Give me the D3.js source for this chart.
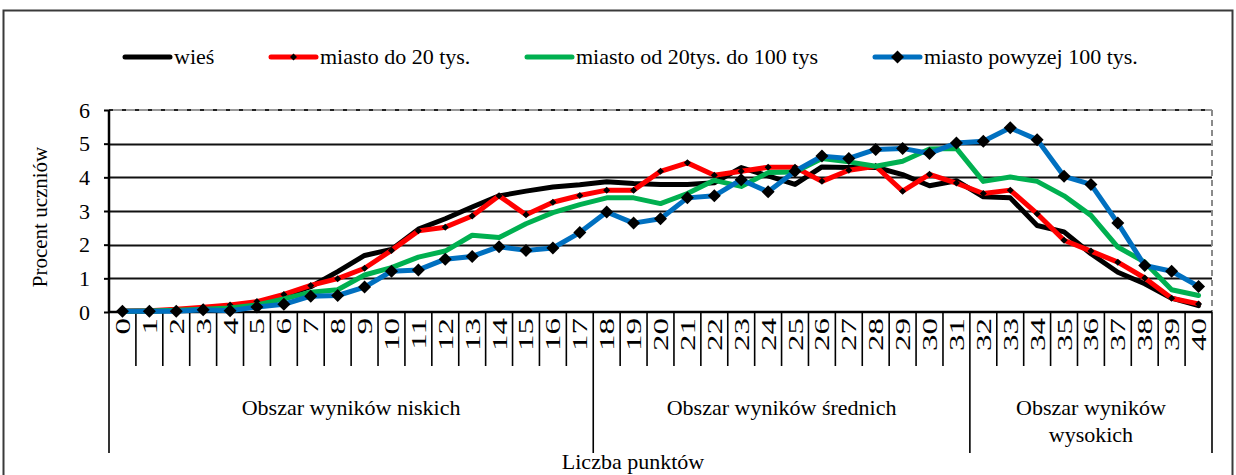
<!DOCTYPE html>
<html>
<head>
<meta charset="utf-8">
<script src="https://cdn.jsdelivr.net/npm/d3@7/dist/d3.min.js"></script>
<style>
  html, body { margin: 0; padding: 0; background: #fff; }
  svg { display: block; }
  svg text { font-family: "Liberation Serif", "Times New Roman", Tinos, "DejaVu Serif", "Noto Serif", serif !important; fill: #000; }
</style>
</head>
<body>
<svg id="chart" width="1236" height="475"></svg>
<script>
// ---- data ----
const categories = d3.range(0, 41).map(String);
const seriesNames = ["wieś", "miasto do 20 tys.", "miasto od 20tys. do 100 tys", "miasto powyzej 100 tys."];
const wies = [0.02,0.03,0.05,0.08,0.13,0.25,0.48,0.75,1.20,1.68,1.86,2.46,2.77,3.12,3.45,3.59,3.71,3.78,3.87,3.82,3.79,3.79,3.84,4.29,4.04,3.79,4.31,4.29,4.30,4.08,3.75,3.90,3.42,3.39,2.57,2.38,1.73,1.18,0.84,0.41,0.19];
const miastoDo20 = [0.02,0.04,0.08,0.14,0.21,0.31,0.52,0.79,0.99,1.30,1.83,2.41,2.52,2.85,3.45,2.89,3.26,3.46,3.62,3.62,4.18,4.43,4.06,4.18,4.30,4.30,3.88,4.21,4.33,3.59,4.09,3.83,3.52,3.62,2.92,2.13,1.81,1.48,1.01,0.41,0.24];
const miasto20do100 = [0.02,0.03,0.05,0.08,0.12,0.21,0.39,0.59,0.66,1.10,1.32,1.63,1.81,2.28,2.21,2.62,2.95,3.19,3.39,3.39,3.22,3.52,3.91,3.73,4.14,4.16,4.56,4.46,4.33,4.48,4.84,4.86,3.88,4.01,3.88,3.45,2.87,1.93,1.48,0.66,0.49];
const miastoPow100 = [0.02,0.02,0.02,0.07,0.04,0.15,0.23,0.47,0.49,0.74,1.21,1.25,1.57,1.65,1.94,1.83,1.90,2.36,2.97,2.64,2.77,3.39,3.45,3.93,3.57,4.18,4.63,4.56,4.83,4.86,4.71,5.02,5.07,5.47,5.12,4.03,3.79,2.64,1.38,1.21,0.76];
const yTicks = [0, 1, 2, 3, 4, 5, 6];
const groupLabels = [["Obszar wyników niskich"], ["Obszar wyników średnich"], ["Obszar wyników", "wysokich"]];
const groupFirst = ["0", "18", "32"];
const groupLast = ["17", "31", "40"];
const yTitle = "Procent uczniów";
const xTitle = "Liczba punktów";

// ---- styles ----
const colors = ["#000000", "#FF0000", "#00B050", "#0070C0"];
const markerSize = [0, 7, 0, 13];
const FONT = 22;

const svg = d3.select("#chart");
const m = { left: 109, right: 1212, top: 110, bottom: 312 };

const x = d3.scaleBand().domain(categories).range([m.left, m.right]).padding(0);
const y = d3.scaleLinear().domain([0, 6]).range([m.bottom, m.top]);

// outer frame
svg.append("rect").attr("x", 3.5).attr("y", 10.5).attr("width", 1229).attr("height", 480)
  .attr("fill", "none").attr("stroke", "#3a3a3a").attr("stroke-width", 2);

// gridlines (1..5 solid)
svg.append("g").selectAll("line").data(yTicks.filter(d => d > 0 && d < 6)).join("line")
  .attr("x1", m.left).attr("x2", m.right)
  .attr("y1", d => Math.round(y(d)) + 0.5).attr("y2", d => Math.round(y(d)) + 0.5)
  .attr("stroke", "#111").attr("stroke-width", 2);

// top border of plot (dashed on gray)
svg.append("line").attr("x1", m.left).attr("x2", m.right).attr("y1", y(6)).attr("y2", y(6))
  .attr("stroke", "#9a9a9a").attr("stroke-width", 2);
svg.append("line").attr("x1", m.left).attr("x2", m.right).attr("y1", y(6)).attr("y2", y(6))
  .attr("stroke", "#222").attr("stroke-width", 2).attr("stroke-dasharray", "4,9");
// right border dashed gray
svg.append("line").attr("x1", m.right).attr("x2", m.right).attr("y1", y(6)).attr("y2", y(0))
  .attr("stroke", "#8a8a8a").attr("stroke-width", 2).attr("stroke-dasharray", "6,4");

// y axis
const yAxis = svg.append("g").attr("transform", `translate(${m.left},0)`)
  .call(d3.axisLeft(y).tickValues(yTicks).tickSize(5).tickPadding(14).tickFormat(d3.format("d")));
yAxis.attr("font-family", null);
yAxis.select(".domain").attr("stroke", "#000").attr("stroke-width", 2.5).attr("d", `M0,${y(6)}V${y(0)}`);
yAxis.selectAll(".tick line").attr("stroke", "#000").attr("stroke-width", 2);
yAxis.selectAll(".tick text").attr("font-size", FONT).attr("fill", "#000");

// x axis line
svg.append("line").attr("x1", m.left).attr("x2", m.right).attr("y1", y(0)).attr("y2", y(0))
  .attr("stroke", "#000").attr("stroke-width", 2.5);

// category dividers
const boundaries = categories.map(c => x(c)).concat([x.range()[1]]);
const groupBounds = groupFirst.map(c => x(c)).concat([x.range()[1]]);
svg.append("g").selectAll("line").data(boundaries).join("line")
  .attr("x1", d => d).attr("x2", d => d)
  .attr("y1", y(0)).attr("y2", d => groupBounds.some(g => Math.abs(g - d) < 0.5) ? 453 : 366)
  .attr("stroke", "#000").attr("stroke-width", 1.6);

// x tick labels rotated (stretched along their length like the reference)
const xAxis = svg.append("g").attr("transform", `translate(0,${y(0)})`)
  .call(d3.axisBottom(x).tickSize(0).tickPadding(0));
xAxis.attr("font-family", null);
xAxis.select(".domain").remove();
xAxis.selectAll(".tick text")
  .attr("font-size", FONT).attr("fill", "#000")
  .attr("text-anchor", "end")
  .attr("transform", "translate(0,6) scale(1,1.5) rotate(-90)")
  .attr("x", 0).attr("y", 0).attr("dy", "0.34em");

// group labels
groupLabels.forEach((lines, i) => {
  const cx = (x(groupFirst[i]) + x(groupLast[i]) + x.bandwidth()) / 2;
  const t = svg.append("text").attr("text-anchor", "middle").attr("font-size", FONT)
    .attr("x", cx).attr("y", 415);
  lines.forEach((ln, j) => t.append("tspan").attr("x", cx).attr("dy", j === 0 ? 0 : 27).text(ln));
});

// axis titles
svg.append("text").attr("text-anchor", "middle").attr("font-size", 21)
  .attr("transform", `translate(47,217) rotate(-90)`).text(yTitle);
svg.append("text").attr("text-anchor", "middle").attr("font-size", FONT)
  .attr("x", 633).attr("y", 469).text(xTitle);

// series
const seriesData = [wies, miastoDo20, miasto20do100, miastoPow100];
const line = d3.line().x((d, i) => x(categories[i]) + x.bandwidth() / 2).y(d => y(d));
const diamond = s => `M0,${-s / 2}L${s / 2},0L0,${s / 2}L${-s / 2},0Z`;

seriesData.forEach((vals, si) => {
  const g = svg.append("g");
  g.append("path").datum(vals).attr("d", line)
    .attr("fill", "none").attr("stroke", colors[si]).attr("stroke-width", 5)
    .attr("stroke-linejoin", "round").attr("stroke-linecap", "round");
  if (markerSize[si] > 0) {
    g.selectAll("path.mk").data(vals).join("path").attr("class", "mk")
      .attr("d", diamond(markerSize[si]))
      .attr("transform", (d, i) => `translate(${x(categories[i]) + x.bandwidth() / 2},${y(d)})`)
      .attr("fill", "#000");
  }
});

// legend
const legendX = [122, 268, 524, 872];
const legendY = 57;
const lg = svg.append("g");
seriesNames.forEach((name, i) => {
  const gx = legendX[i];
  lg.append("line").attr("x1", gx + 3).attr("x2", gx + 48).attr("y1", legendY).attr("y2", legendY)
    .attr("stroke", colors[i]).attr("stroke-width", 5).attr("stroke-linecap", "round");
  if (markerSize[i] > 0) {
    lg.append("path").attr("d", diamond(markerSize[i])).attr("fill", "#000")
      .attr("transform", `translate(${gx + 25.5},${legendY})`);
  }
  lg.append("text").attr("x", gx + 52).attr("y", legendY + 7).attr("font-size", FONT).text(name);
});
</script>
</body>
</html>
